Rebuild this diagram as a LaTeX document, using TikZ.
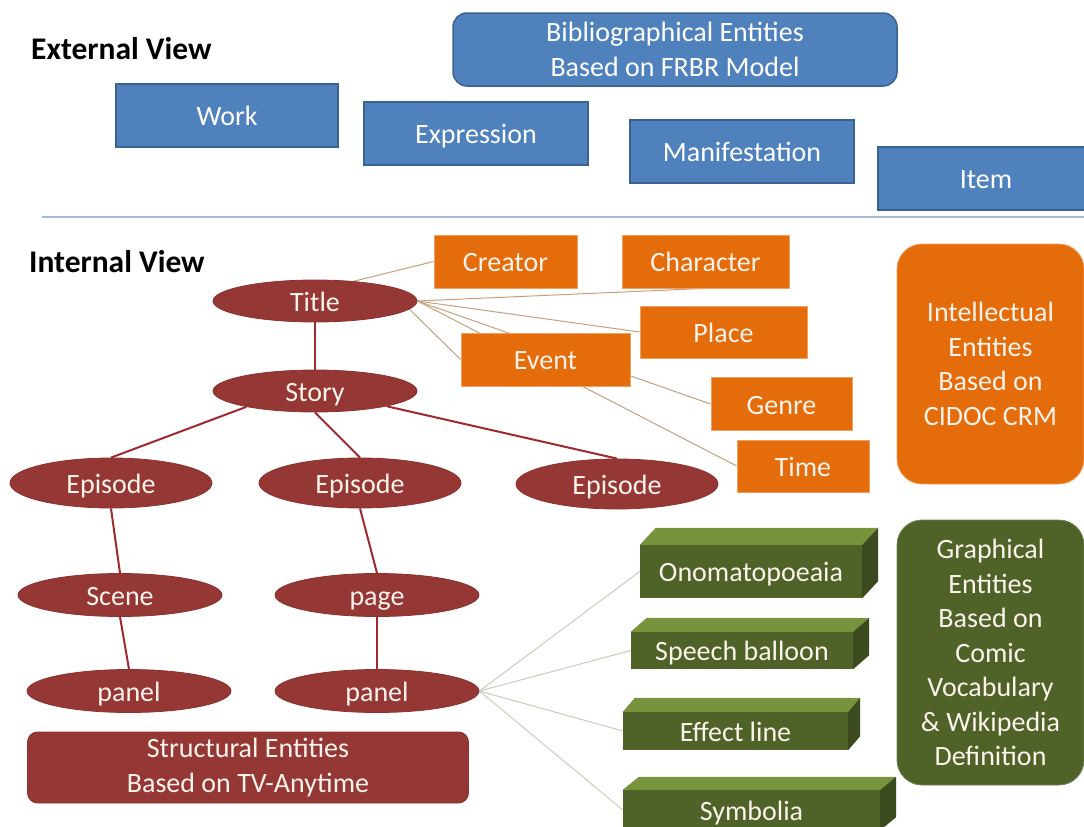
\documentclass[tikz,border=0pt]{standalone}
\usepackage{fontspec}
\setmainfont{Carlito}
\usetikzlibrary{shapes.geometric,backgrounds,calc}
\definecolor{bluef}{HTML}{4F81BD}
\definecolor{blued}{HTML}{3A6291}
\definecolor{orf}{HTML}{E46C0A}
\definecolor{ord}{HTML}{F0A060}
\definecolor{redf}{HTML}{953735}
\definecolor{redd}{HTML}{8C3230}
\definecolor{redl}{HTML}{9E2A30}
\definecolor{grf}{HTML}{4F6228}
\definecolor{grtop}{HTML}{77933C}
\definecolor{grside}{HTML}{3C4B1E}
\definecolor{tanl}{HTML}{C4A07C}
\definecolor{grl}{HTML}{C8CCBA}
\definecolor{sepl}{HTML}{A5BDD4}
\definecolor{cream}{HTML}{FBF3EC}
\newcommand{\prismfaces}[3]{%
  \fill[grtop] (#1.north west) -- ++(#2,#3) -- ($(#1.north east)+(#2,#3)$) -- (#1.north east) -- cycle;
  \fill[grside] (#1.north east) -- ++(#2,#3) -- ($(#1.south east)+(#2,#3)$) -- (#1.south east) -- cycle;}
\begin{document}
\begin{tikzpicture}[x=1pt,y=-1pt,
  every node/.style={font=\fontsize{28}{34.5}\selectfont},
  single/.style={inner sep=0pt, text height=22pt, text depth=2pt},
  multi/.style={inner sep=0pt, align=center},
  heading/.style={anchor=west, inner sep=0pt, font=\fontsize{31.5}{36}\selectfont\bfseries},
  bluebox/.style={draw=blued, line width=1.5pt, fill=bluef, text=white, minimum width=224pt, minimum height=63pt},
  orbox/.style={draw=ord, line width=0.8pt, fill=orf, text=cream, minimum height=53pt},
  ell/.style={ellipse, draw=redd, line width=0.8pt, fill=redf, text=cream, minimum width=204pt, minimum height=43pt, single},
  grbox/.style={fill=grf, text=cream, single},
  tree/.style={draw=redl, line width=2pt},
  tanline/.style={draw=tanl, line width=1pt},
  grline/.style={draw=grl, line width=1pt},
  sepline/.style={draw=sepl, line width=1.5pt}]
\useasboundingbox (0,0) rectangle (1084,827);
\clip (0,0) rectangle (1084,827);

% headings
\node[heading] (ext) at (31,49) {External View};
\node[heading] (int) at (29,262) {Internal View};

% external view
\node[bluebox, multi, rounded corners=14pt, minimum width=444pt, minimum height=73pt] (biblio) at (675,49.5) {Bibliographical Entities\\Based on FRBR Model};
\node[bluebox, single, minimum width=222pt] (work) at (227,115.5) {Work};
\node[bluebox, single] (expr) at (476,133.5) {Expression};
\node[bluebox, single] (manif) at (742,151.5) {Manifestation};
\node[bluebox, single, minimum width=216pt] (item) at (986,178.5) {Item};

\coordinate (sepa) at (42,217);
\coordinate (sepb) at (1084,217);
\draw[sepline] (sepa) -- (sepb);

% intellectual entities
\node[orbox, single, minimum width=143pt] (creator) at (505.5,261.5) {Creator};
\node[orbox, single, minimum width=167pt] (character) at (705.5,261.5) {Character};
\node[orbox, single, minimum width=167pt, minimum height=52pt] (place) at (723.5,332) {Place};
\node[orbox, single, minimum width=169pt] (event) at (545.5,359.5) {Event};
\node[orbox, single, minimum width=141pt] (genre) at (781.5,404) {Genre};
\node[orbox, single, minimum width=132pt, minimum height=52pt] (time) at (803,466) {Time};
\node[orbox, multi, rounded corners=25pt, minimum width=187pt, minimum height=240pt] (intel) at (990.5,364) {Intellectual\\Entities\\Based on\\CIDOC CRM};

% structural entities
\node[ell, minimum height=42pt] (title) at (315,301) {Title};
\node[ell, minimum height=42pt] (story) at (315,391) {Story};
\node[ell, minimum width=202pt, minimum height=50pt] (ep1) at (111,483) {Episode};
\node[ell, minimum width=202pt, minimum height=50pt] (ep2) at (360,483) {Episode};
\node[ell, minimum width=202pt, minimum height=50pt] (ep3) at (617,484) {Episode};
\node[ell] (scene) at (120,595) {Scene};
\node[ell] (page) at (377,595) {page};
\node[ell] (panel1) at (129,691) {panel};
\node[ell] (panel2) at (377,691) {panel};
\node[multi, fill=redf, draw=redd, line width=0.8pt, text=cream, rounded corners=10pt, minimum width=441pt, minimum height=71pt] (struct) at (248,767.5) {Structural Entities\\Based on TV-Anytime};

% graphical entities
\node[grbox, minimum width=222pt, minimum height=53pt] (ono) at (751,571.5) {Onomatopoeaia};
\prismfaces{ono}{16}{-17}
\node[grbox, minimum width=222pt, minimum height=37pt] (speech) at (742,650.5) {Speech balloon};
\prismfaces{speech}{16}{-14}
\node[grbox, minimum width=225pt, minimum height=38pt] (effect) at (735.5,731) {Effect line};
\prismfaces{effect}{12}{-14}
\node[grbox, minimum width=257pt, minimum height=40pt] (symb) at (751.5,810) {Symbolia};
\prismfaces{symb}{16}{-13}
\node[multi, fill=grf, draw=grf!80!white, line width=0.8pt, text=cream, rounded corners=25pt, minimum width=187pt, minimum height=265pt] (graph) at (990.5,652.5) {Graphical\\Entities\\Based on\\Comic\\Vocabulary\\\& Wikipedia\\Definition};

% connectors
\begin{pgfonlayer}{background}
\draw[tree] (title.south) -- (story.north);
\draw[tree] (story.-167) -- (ep1.north);
\draw[tree] (story.south) -- (ep2.north);
\draw[tree] (story.-12) -- (ep3.north);
\draw[tree] (ep1.south) -- (scene.north);
\draw[tree] (scene.south) -- (panel1.north);
\draw[tree] (ep2.south) -- (page.north);
\draw[tree] (page.south) -- (panel2.north);
\draw[tanline] (title.27) -- (creator.west);
\draw[tanline] (title.east) -- (character.south);
\draw[tanline] (title.east) -- (place.west);
\draw[tanline] (title.-5) -- (event.west);
\draw[tanline] (title.east) -- (genre.west);
\draw[tanline] (title.east) -- (time.west);
\draw[grline] (panel2.east) -- (ono.west);
\draw[grline] (panel2.east) -- (speech.west);
\draw[grline] (panel2.east) -- (effect.west);
\draw[grline] (panel2.east) -- (symb.west);
\end{pgfonlayer}
\end{tikzpicture}
\end{document}
